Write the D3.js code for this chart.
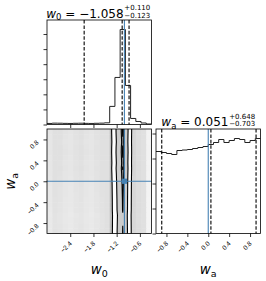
<!DOCTYPE html>
<html>
<head>
<meta charset="utf-8">
<script src="https://cdn.jsdelivr.net/npm/d3@7"></script>
<style>
body { margin: 0; background: #fff; }
svg { display: block; font-family: "DejaVu Sans", sans-serif; }
</style>
</head>
<body>
<script>
// ---- data ----
var w0Range = [-3.0, -0.3];
var waRange = [-1.0, 1.0];
// histogram counts, 20 bins each
var w0Counts = [14, 18, 17, 15, 14, 16, 17, 15, 14, 16, 18, 22, 240, 624, 1260, 518, 80, 40, 20, 7];
var waCounts = [164, 162, 160, 158, 166, 167, 168, 170, 172, 174, 178, 182, 188, 182, 186, 190, 188, 182, 186, 190];
var w0Ticks = [-2.4, -1.8, -1.2, -0.6];
var waTicks = [-0.8, -0.4, 0.0, 0.4, 0.8];
var w0Quantiles = [-2.04, -1.058, -0.88];
var waQuantiles = [-0.89, 0.051, 0.915];
var w0Truth = -1.0;
var waTruth = 0.0;
var w0Title = ["w", "0", "−1.058", "+0.110", "−0.123"];
var waTitle = ["w", "a", "0.051", "+0.648", "−0.703"];
// contour mass levels (corner default, sigma 0.5 .. 2)
var massLevels = [0.118, 0.393, 0.675, 0.865];

// ---- layout ----
var W = 266, H = 281;
var size = 104.5;
var colX = [47, 156];
var rowY = [20, 129];
var blue = "#4682b4";

var svg = d3.select("body").append("svg")
    .attr("width", W)
    .attr("height", H);

var x0 = d3.scaleLinear().domain(w0Range).range([colX[0], colX[0] + size]);
var xa = d3.scaleLinear().domain(waRange).range([colX[1], colX[1] + size]);
var ya = d3.scaleLinear().domain(waRange).range([rowY[1] + size, rowY[1]]);
var yh0 = d3.scaleLinear().domain([0, 1.1 * d3.max(w0Counts)]).range([rowY[0] + size, rowY[0]]);
var yha = d3.scaleLinear().domain([0, 1.1 * d3.max(waCounts)]).range([rowY[1] + size, rowY[1]]);

var fmt = d3.format(".1f");

// clip paths for the panels
var defs = svg.append("defs");
[["c00", colX[0], rowY[0]], ["c10", colX[0], rowY[1]], ["c11", colX[1], rowY[1]]].forEach(function (c) {
    defs.append("clipPath").attr("id", c[0])
        .append("rect").attr("x", c[1]).attr("y", c[2]).attr("width", size).attr("height", size);
});

// step histogram
function histPath(counts, range, x, y) {
    var bw = (range[1] - range[0]) / counts.length;
    var pts = counts.map(function (c, i) { return [range[0] + i * bw, c]; });
    pts.push([range[1], counts[counts.length - 1]]);
    return d3.line()
        .x(function (d) { return x(d[0]); })
        .y(function (d) { return y(d[1]); })
        .curve(d3.curveStepAfter)(pts);
}

function styleAxis(g) {
    g.select(".domain").remove();
    g.selectAll(".tick line").attr("stroke", "#000").attr("stroke-width", 0.8);
    g.selectAll(".tick text").style("font-size", "6.5px").attr("fill", "#000");
}

// ---- top left: w0 histogram ----
var p00 = svg.append("g");
p00.append("path")
    .attr("clip-path", "url(#c00)")
    .attr("d", histPath(w0Counts, w0Range, x0, yh0))
    .attr("fill", "none").attr("stroke", "#222").attr("stroke-width", 1);
p00.selectAll(".q").data(w0Quantiles).enter().append("line")
    .attr("x1", x0).attr("x2", x0)
    .attr("y1", rowY[0]).attr("y2", rowY[0] + size)
    .attr("stroke", "#000").attr("stroke-width", 1.1).attr("stroke-dasharray", "3.6,1.8");
p00.append("line")
    .attr("x1", x0(w0Truth)).attr("x2", x0(w0Truth))
    .attr("y1", rowY[0]).attr("y2", rowY[0] + size)
    .attr("stroke", blue).attr("stroke-width", 1.1);
p00.append("g").attr("transform", "translate(0," + (rowY[0] + size) + ")")
    .call(d3.axisBottom(x0).tickValues(w0Ticks).tickSize(3.5).tickFormat(""))
    .call(styleAxis);
p00.append("g").attr("transform", "translate(" + colX[0] + ",0)")
    .call(d3.axisLeft(yh0).ticks(5).tickSize(3.5).tickFormat(""))
    .call(styleAxis);

// ---- bottom left: 2d panel ----
var p10 = svg.append("g").attr("clip-path", "url(#c10)");
var nx = w0Counts.length, ny = waCounts.length;
var bw0 = (w0Range[1] - w0Range[0]) / nx;
var bwa = (waRange[1] - waRange[0]) / ny;
var waMean = d3.mean(waCounts);

// joint density grid (row 0 = top)
var grid = [];
for (var r = 0; r < ny; r++) {
    for (var c = 0; c < nx; c++) {
        grid.push(w0Counts[c] * waCounts[ny - 1 - r]);
    }
}

// point cloud shade, drawn as solid grays so cells do not overlap-darken
var shade = d3.scaleLinear().domain([0, 18, 250]).range([0, 0.12, 0.26]).clamp(true);
var cells = grid.map(function (v, k) { return { c: k % nx, r: Math.floor(k / nx), v: v / waMean }; });
p10.selectAll(".cell").data(cells).enter().append("rect")
    .attr("x", function (d) { return x0(w0Range[0] + d.c * bw0); })
    .attr("y", function (d) { return ya(waRange[1] - d.r * bwa); })
    .attr("width", x0(w0Range[0] + bw0) - x0(w0Range[0]) + 0.5)
    .attr("height", ya(waRange[1] - bwa) - ya(waRange[1]) + 0.5)
    .attr("fill", function (d) { var g = Math.round(255 * (1 - shade(d.v))); return d3.rgb(g, g, g); });

// contour levels from enclosed mass
var sorted = grid.slice().sort(d3.descending);
var total = d3.sum(sorted), cum = 0;
var acc = sorted.map(function (v) { cum += v; return cum / total; });
var levels = massLevels.map(function (q) {
    var i = 0;
    while (i < acc.length - 1 && acc[i + 1] <= q) i++;
    return sorted[i];
}).reverse();

// pad one copied row above and below so contours close outside the panel
var padded = grid.slice(0, nx).concat(grid, grid.slice(grid.length - nx));
var contours = d3.contours().size([nx, ny + 2]).thresholds(levels)(padded);
var gpath = d3.geoPath(d3.geoTransform({
    point: function (gx, gy) {
        this.stream.point(x0(w0Range[0] + gx * bw0), ya(waRange[1] - (gy - 1) * bwa));
    }
}));
var fills = ["#ffffff", "#cccccc", "#808080", "#2a2a2a"];
p10.selectAll(".cf").data(contours).enter().append("path")
    .attr("d", gpath)
    .attr("fill", function (d, i) { return fills[i]; })
    .attr("stroke", "#000")
    .attr("stroke-width", 1.1);

p10.append("line")
    .attr("x1", x0(w0Truth)).attr("x2", x0(w0Truth))
    .attr("y1", rowY[1]).attr("y2", rowY[1] + size)
    .attr("stroke", blue).attr("stroke-width", 1.1);
p10.append("line")
    .attr("x1", colX[0]).attr("x2", colX[0] + size)
    .attr("y1", ya(waTruth)).attr("y2", ya(waTruth))
    .attr("stroke", blue).attr("stroke-width", 1.1);
p10.append("rect")
    .attr("x", x0(w0Truth) - 2.6).attr("y", ya(waTruth) - 2.6)
    .attr("width", 5.2).attr("height", 5.2)
    .attr("fill", blue);

var ax10 = svg.append("g").attr("transform", "translate(0," + (rowY[1] + size) + ")")
    .call(d3.axisBottom(x0).tickValues(w0Ticks).tickSize(3.5).tickFormat(fmt))
    .call(styleAxis);
ax10.selectAll(".tick text")
    .attr("x", null).attr("y", null).attr("dy", null)
    .attr("text-anchor", "end")
    .attr("transform", "translate(1.5,10.5) rotate(-45)");

var ay10 = svg.append("g").attr("transform", "translate(" + colX[0] + ",0)")
    .call(d3.axisLeft(ya).tickValues(waTicks).tickSize(3.5).tickFormat(fmt))
    .call(styleAxis);
ay10.selectAll(".tick text")
    .attr("x", null).attr("y", null).attr("dy", null)
    .attr("text-anchor", "end")
    .attr("transform", "translate(-8,3) rotate(-45)");

// ---- bottom right: wa histogram ----
var p11 = svg.append("g");
p11.append("path")
    .attr("clip-path", "url(#c11)")
    .attr("d", histPath(waCounts, waRange, xa, yha))
    .attr("fill", "none").attr("stroke", "#222").attr("stroke-width", 1);
p11.selectAll(".q").data(waQuantiles).enter().append("line")
    .attr("x1", xa).attr("x2", xa)
    .attr("y1", rowY[1]).attr("y2", rowY[1] + size)
    .attr("stroke", "#000").attr("stroke-width", 1.1).attr("stroke-dasharray", "3.6,1.8");
p11.append("line")
    .attr("x1", xa(waTruth)).attr("x2", xa(waTruth))
    .attr("y1", rowY[1]).attr("y2", rowY[1] + size)
    .attr("stroke", blue).attr("stroke-width", 1.1);
var ax11 = svg.append("g").attr("transform", "translate(0," + (rowY[1] + size) + ")")
    .call(d3.axisBottom(xa).tickValues(waTicks).tickSize(3.5).tickFormat(fmt))
    .call(styleAxis);
ax11.selectAll(".tick text")
    .attr("x", null).attr("y", null).attr("dy", null)
    .attr("text-anchor", "end")
    .attr("transform", "translate(1.5,10.5) rotate(-45)");
svg.append("g").attr("transform", "translate(" + colX[1] + ",0)")
    .call(d3.axisLeft(yha).ticks(5).tickSize(3.5).tickFormat(""))
    .call(styleAxis);

// panel frames
[[colX[0], rowY[0]], [colX[0], rowY[1]], [colX[1], rowY[1]]].forEach(function (p) {
    svg.append("rect")
        .attr("x", p[0]).attr("y", p[1]).attr("width", size).attr("height", size)
        .attr("fill", "none").attr("stroke", "#000").attr("stroke-width", 0.8);
});

// ---- titles ----
function title(cx, baseY, t) {
    var g = svg.append("g");
    var txt = g.append("text").attr("y", baseY).style("font-size", "12px");
    txt.append("tspan").style("font-style", "italic").text(t[0]);
    txt.append("tspan").attr("dy", 2.5).style("font-size", "8.5px").text(t[1]);
    txt.append("tspan").attr("dy", -2.5).text(" = " + t[2]);
    var w = txt.node().getComputedTextLength();
    g.append("text").attr("x", w + 0.8).attr("y", baseY - 7.5).style("font-size", "7px").text(t[3]);
    g.append("text").attr("x", w + 0.8).attr("y", baseY + 0.2).style("font-size", "7px").text(t[4]);
    var bb = g.node().getBBox();
    g.attr("transform", "translate(" + (cx - bb.x - bb.width / 2) + ",0)");
}
title(colX[0] + size / 2 - 1, rowY[0] - 2.5, w0Title);
title(colX[1] + size / 2, rowY[1] - 3, waTitle);

// ---- axis labels ----
function axisLabel(g, sym, sub) {
    var t = g.append("text").attr("text-anchor", "middle").style("font-size", "13.5px");
    t.append("tspan").style("font-style", "italic").text(sym);
    t.append("tspan").attr("dy", 3).style("font-size", "9.5px").text(sub);
    return t;
}
axisLabel(svg.append("g").attr("transform", "translate(" + (colX[0] + size / 2) + ",274)"), "w", "0");
axisLabel(svg.append("g").attr("transform", "translate(" + (colX[1] + size / 2) + ",274)"), "w", "a");
axisLabel(svg.append("g").attr("transform", "translate(15," + (rowY[1] + size / 2) + ") rotate(-90)"), "w", "a");
</script>
</body>
</html>
